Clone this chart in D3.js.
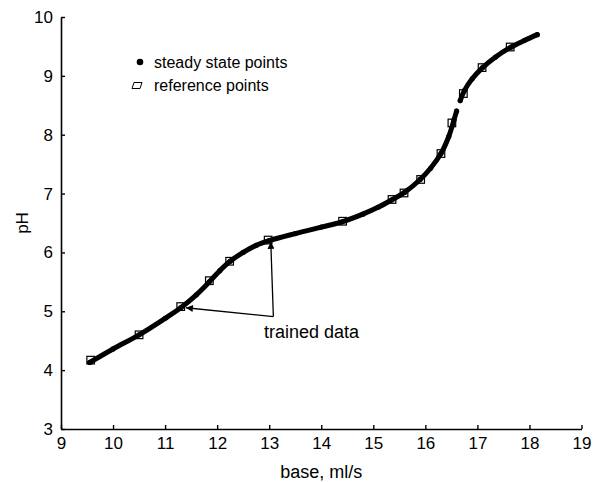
<!DOCTYPE html>
<html>
<head>
<meta charset="utf-8">
<script src="https://cdn.jsdelivr.net/npm/d3@7"></script>
<style>
  body { margin: 0; background: #fff; }
  text { font-family: "Liberation Sans", Arial, Helvetica, sans-serif; fill: #000; }
</style>
</head>
<body>
<div id="chart"></div>
<script>
// steady state points (two runs, gap near 16.6)
const steadyLow = [
  [9.55, 4.13], [10.0, 4.36], [10.5, 4.60], [11.0, 4.88], [11.3, 5.06],
  [11.6, 5.28], [11.85, 5.50], [12.05, 5.69], [12.25, 5.85], [12.5, 6.00],
  [12.75, 6.12], [13.0, 6.20], [13.5, 6.32], [14.0, 6.43], [14.4, 6.52],
  [14.8, 6.65], [15.1, 6.77], [15.35, 6.89], [15.6, 7.02], [15.9, 7.24],
  [16.1, 7.43], [16.3, 7.68], [16.45, 7.97], [16.55, 8.25], [16.6, 8.40]
];
const steadyHigh = [
  [16.67, 8.58], [16.75, 8.75], [16.9, 8.95], [17.1, 9.14], [17.35, 9.32],
  [17.65, 9.49], [17.9, 9.60], [18.15, 9.70]
];
// reference points (open squares)
const refX = [9.57, 10.5, 11.3, 11.85, 12.24, 12.98, 14.41, 15.36, 15.59, 15.91, 16.3, 16.51, 16.73, 17.09, 17.63];
const refY = [4.17, 4.60, 5.08, 5.52, 5.85, 6.21, 6.53, 6.90, 7.01, 7.24, 7.68, 8.20, 8.70, 9.14, 9.49];
const xTicks = [9, 10, 11, 12, 13, 14, 15, 16, 17, 18, 19];
const yTicks = [3, 4, 5, 6, 7, 8, 9, 10];
// "trained data" annotation: arrow start and the two trained points
const arrowFrom = [13.08, 4.91];
const arrowTo = [[11.4, 5.06], [13.03, 6.18]];

const width = 597, height = 482;
const margin = {top: 17, right: 15.5, bottom: 53, left: 61};

const svg = d3.select("#chart")
    .append("svg")
    .attr("width", width)
    .attr("height", height);

let x = d3.scaleLinear().domain([9, 19]).range([margin.left, width - margin.right]);
let y = d3.scaleLinear().domain([3, 10]).range([height - margin.bottom, margin.top]);

// axes, ticks pointing inward
svg.append("g")
    .attr("transform", `translate(0,${y(3)})`)
    .call(d3.axisBottom(x).tickValues(xTicks).tickFormat(d3.format("d")).tickSize(-4).tickPadding(8).tickSizeOuter(0))
    .call(g => g.select(".domain").attr("stroke-width", 1.6))
    .call(g => g.selectAll(".tick line").attr("stroke-width", 1.4))
    .selectAll("text").style("font-size", "17px");

svg.append("g")
    .attr("transform", `translate(${x(9)},0)`)
    .call(d3.axisLeft(y).tickValues(yTicks).tickFormat(d3.format("d")).tickSize(-4).tickPadding(8).tickSizeOuter(0))
    .call(g => g.select(".domain").attr("stroke-width", 1.6))
    .call(g => g.selectAll(".tick line").attr("stroke-width", 1.4))
    .selectAll("text").style("font-size", "17px");

// axis titles
svg.append("text")
    .attr("x", (x(9) + x(19)) / 2)
    .attr("y", 478)
    .style("text-anchor", "middle")
    .style("font-size", "18px")
    .text("base, ml/s");

svg.append("text")
    .attr("transform", `translate(28,${(y(3) + y(10)) / 2}) rotate(-90)`)
    .style("text-anchor", "middle")
    .style("font-size", "17px")
    .text("pH");

// steady state curve: thick line of dots
let line = d3.line()
    .x(d => x(d[0]))
    .y(d => y(d[1]))
    .curve(d3.curveCatmullRom);

[steadyLow, steadyHigh].forEach(seg => {
    svg.append("path")
        .datum(seg)
        .attr("d", line)
        .attr("fill", "none")
        .attr("stroke", "#000")
        .attr("stroke-width", 5)
        .attr("stroke-linecap", "round");
    svg.selectAll(null)
        .data(seg)
        .enter()
        .append("circle")
        .attr("cx", d => x(d[0]))
        .attr("cy", d => y(d[1]))
        .attr("r", 2.6)
        .attr("fill", "#000");
});

// reference points
svg.selectAll(null)
    .data(refX.map((v, i) => [v, refY[i]]))
    .enter()
    .append("rect")
    .attr("x", d => x(d[0]) - 3.8)
    .attr("y", d => y(d[1]) - 3.8)
    .attr("width", 7.6)
    .attr("height", 7.6)
    .attr("fill", "none")
    .attr("stroke", "#000")
    .attr("stroke-width", 1.2);

// annotation arrows
svg.append("defs").append("marker")
    .attr("id", "arrow")
    .attr("viewBox", "0 0 10 10")
    .attr("refX", 10)
    .attr("refY", 5)
    .attr("markerWidth", 9)
    .attr("markerHeight", 7)
    .attr("markerUnits", "userSpaceOnUse")
    .attr("orient", "auto")
    .append("path")
    .attr("d", "M0,0L10,5L0,10Z")
    .attr("fill", "#000");

arrowTo.forEach(t => {
    svg.append("line")
        .attr("x1", x(arrowFrom[0]))
        .attr("y1", y(arrowFrom[1]))
        .attr("x2", x(t[0]))
        .attr("y2", y(t[1]))
        .attr("stroke", "#000")
        .attr("stroke-width", 1.3)
        .attr("marker-end", "url(#arrow)");
});

svg.append("text")
    .attr("x", 264)
    .attr("y", 338)
    .style("font-size", "18px")
    .text("trained data");

// legend
svg.append("circle")
    .attr("cx", 140)
    .attr("cy", 62)
    .attr("r", 3.3)
    .attr("fill", "#000");
svg.append("text")
    .attr("x", 154)
    .attr("y", 68)
    .style("font-size", "16px")
    .text("steady state points");

svg.append("path")
    .attr("d", "M134,82.5L142,82.5L140,88.5L132,88.5Z")
    .attr("fill", "#fff")
    .attr("stroke", "#000")
    .attr("stroke-width", 1);
svg.append("text")
    .attr("x", 154)
    .attr("y", 91)
    .style("font-size", "16px")
    .text("reference points");
</script>
</body>
</html>
